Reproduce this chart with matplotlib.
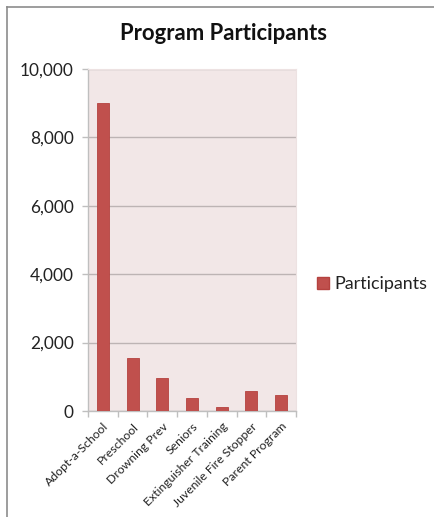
import matplotlib
matplotlib.use("Agg")
import matplotlib.pyplot as plt
from matplotlib.lines import Line2D
from matplotlib.patches import Patch
from matplotlib.ticker import FuncFormatter, FixedLocator
import numpy as np

plt.rcParams['font.family'] = ['Lato', 'DejaVu Sans']

programs = ["Adopt-a-School", "Preschool", "Drowning Prev", "Seniors",
            "Extinguisher Training", "Juvenile Fire Stopper", "Parent Program"]
participants = [9000, 1540, 970, 375, 120, 575, 475]
y_ticks = [0, 2000, 4000, 6000, 8000, 10000]

bar_color = "#C0504D"
plot_bg = "#F2E7E7"
grid_color = "#BDB4B4"
axis_color = "#BFBFBF"
text_color = "#222222"

fig = plt.figure(figsize=(4.34, 5.17), dpi=100)
ax = fig.add_axes([88 / 434, 1 - 411 / 517, 208 / 434, 342 / 517])

x = np.arange(len(programs))
ax.bar(x, participants, width=0.4, color=bar_color, edgecolor="#B5423F",
       linewidth=0.6, zorder=3, label="Participants")

ax.set_facecolor(plot_bg)
ax.set_xlim(-0.5, len(programs) - 0.5)
ax.set_ylim(0, 10000)

ax.yaxis.set_major_locator(FixedLocator(y_ticks))
ax.yaxis.set_major_formatter(FuncFormatter(lambda v, p: f"{int(v):,}"))
ax.grid(axis="y", color=grid_color, linewidth=1.0, zorder=1)

ax.set_xticks(x)
ax.set_xticklabels(programs, rotation=45, ha="right", rotation_mode="anchor",
                   fontsize=8.8, color=text_color)
ax.set_xticks(np.arange(-0.5, len(programs), 1.0), minor=True)
ax.tick_params(axis="x", which="major", length=0, pad=7)
ax.tick_params(axis="x", which="minor", length=4, color=axis_color, width=1)
ax.tick_params(axis="y", length=4.3, color=axis_color, width=1,
               labelsize=12.4, labelcolor=text_color, pad=6)

for side in ["top", "right"]:
    ax.spines[side].set_color("#EDE2E2")
    ax.spines[side].set_linewidth(0.8)
for side in ["left", "bottom"]:
    ax.spines[side].set_color(axis_color)
    ax.spines[side].set_linewidth(1.0)

fig.text(0.515, 0.936, "Program Participants", ha="center", va="center",
         fontsize=15.9, fontweight="bold", color="#111111")

fig.legend(handles=[Patch(facecolor=bar_color, edgecolor="#B5423F",
                          label="Participants")],
           loc="center left", bbox_to_anchor=(313 / 434, 1 - 284 / 517),
           frameon=False, fontsize=12.9, handlelength=0.68, handleheight=0.68,
           handletextpad=0.3, labelcolor=text_color, borderpad=0.2,
           borderaxespad=0)

# outer frame on the left and top edges
fig.add_artist(Line2D([7 / 434, 7 / 434], [0, 1 - 7 / 517],
                      transform=fig.transFigure, color="#8C8C8C", linewidth=1.2))
fig.add_artist(Line2D([7 / 434, 1], [1 - 7 / 517, 1 - 7 / 517],
                      transform=fig.transFigure, color="#8C8C8C", linewidth=1.2))

fig.savefig("out.png", dpi=100, facecolor="white")
